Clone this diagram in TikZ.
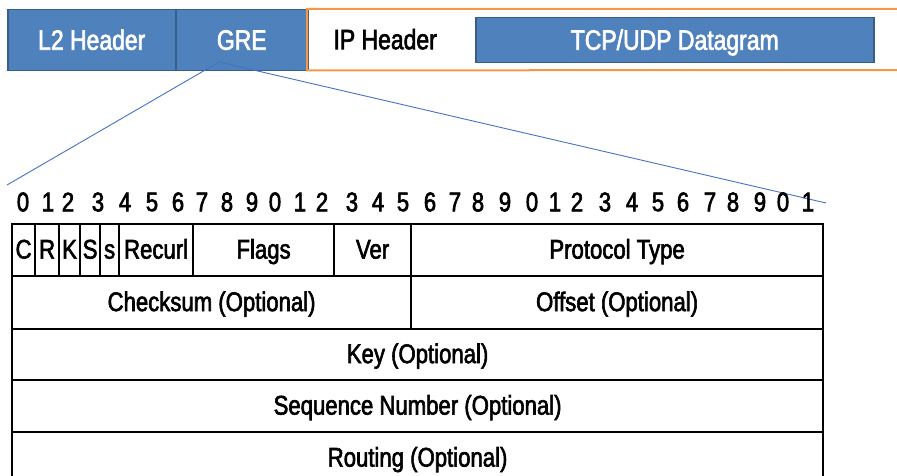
\documentclass[tikz,border=0pt]{standalone}
\usepackage{fontspec}
\setmainfont{Liberation Sans}[FakeStretch=0.82,FakeBold=2.2]
\definecolor{boxblue}{HTML}{4F81BD}
\definecolor{boxedge}{HTML}{385D8A}
\definecolor{iporange}{HTML}{F79646}
\definecolor{zoomblue}{HTML}{4472C4}
\begin{document}
\begin{tikzpicture}[x=1pt,y=-1pt,
  hdr/.style={draw=boxedge, fill=boxblue, line width=1.5pt, text=white,
    font=\fontsize{28}{28}\selectfont, inner sep=0pt, anchor=north west,
    text height=19pt, text depth=0pt},
  cell/.style={draw=black, line width=2.2pt, inner sep=0pt, anchor=north west,
    font=\fontsize{27}{27}\selectfont, text height=17pt, text depth=0pt},
  bitnum/.style={font=\fontsize{27}{27}\selectfont, inner sep=0pt},
  zoomline/.style={draw=zoomblue, line width=0.9pt}]
\useasboundingbox (0,0) rectangle (897,476);
\clip (0,0) rectangle (897,476);

% encapsulated packet
\node[hdr, minimum width=168pt, minimum height=61pt] (l2) at (7,9) {L2 Header};
\node[hdr, minimum width=132pt, minimum height=61pt] (gre) at (175,9) {GRE};
\node[inner sep=0pt, font=\fontsize{28}{28}\selectfont, anchor=north west,
  text height=19pt, text depth=0pt,
  minimum width=156pt, minimum height=61pt] (ip) at (307,9) {IP Header};
\draw[iporange, line width=2pt] (905,9) -- (ip.north west) -- (ip.south west) -- (905,70);
\node[hdr, minimum width=398pt, minimum height=45pt] (tcp) at (475,17) {TCP/UDP Datagram};

% zoom lines from the GRE block to the header layout
\coordinate (apex) at (219,62);
\coordinate (zl) at (7,185);
\coordinate (zr) at (826,203);
\draw[zoomline] (zl) -- (apex) -- (zr);

% bit numbering
\foreach \d/\xx [count=\i from 0] in {0/23,1/48,2/68,3/98,4/125,5/152,6/178,7/202,
  8/227,9/252,0/275,1/300,2/322,3/352,4/378,5/403,6/430,7/455,8/478,9/505,
  0/532,1/555,2/577,3/605,4/632,5/658,6/683,7/710,8/733,9/760,0/783,1/808}
  \node[bitnum] (bit\i) at (\xx,202) {\d};

% GRE header fields
\node[cell, minimum width=23pt, minimum height=52pt] (c) at (11,223) {C};
\node[cell, minimum width=24pt, minimum height=52pt] (r) at (34,223) {R};
\node[cell, minimum width=21pt, minimum height=52pt] (k) at (58,223) {K};
\node[cell, minimum width=20pt, minimum height=52pt] (sb) at (79,223) {S};
\node[cell, minimum width=19pt, minimum height=52pt] (ss) at (99,223) {s};
\node[cell, minimum width=74pt, minimum height=52pt] (recur) at (118,223) {Recurl};
\node[cell, minimum width=141pt, minimum height=52pt] (flags) at (192,223) {Flags};
\node[cell, minimum width=77pt, minimum height=52pt] (ver) at (333,223) {Ver};
\node[cell, minimum width=412pt, minimum height=52pt] (proto) at (410,223) {Protocol Type};
\node[cell, minimum width=399pt, minimum height=53pt] (cks) at (11,275) {Checksum (Optional)};
\node[cell, minimum width=412pt, minimum height=53pt] (off) at (410,275) {Offset (Optional)};
\node[cell, minimum width=811pt, minimum height=51pt] (key) at (11,328) {Key (Optional)};
\node[cell, minimum width=811pt, minimum height=52pt] (seq) at (11,379) {Sequence Number (Optional)};
\node[cell, minimum width=811pt, minimum height=52pt] (route) at (11,431) {Routing (Optional)};
\end{tikzpicture}
\end{document}
